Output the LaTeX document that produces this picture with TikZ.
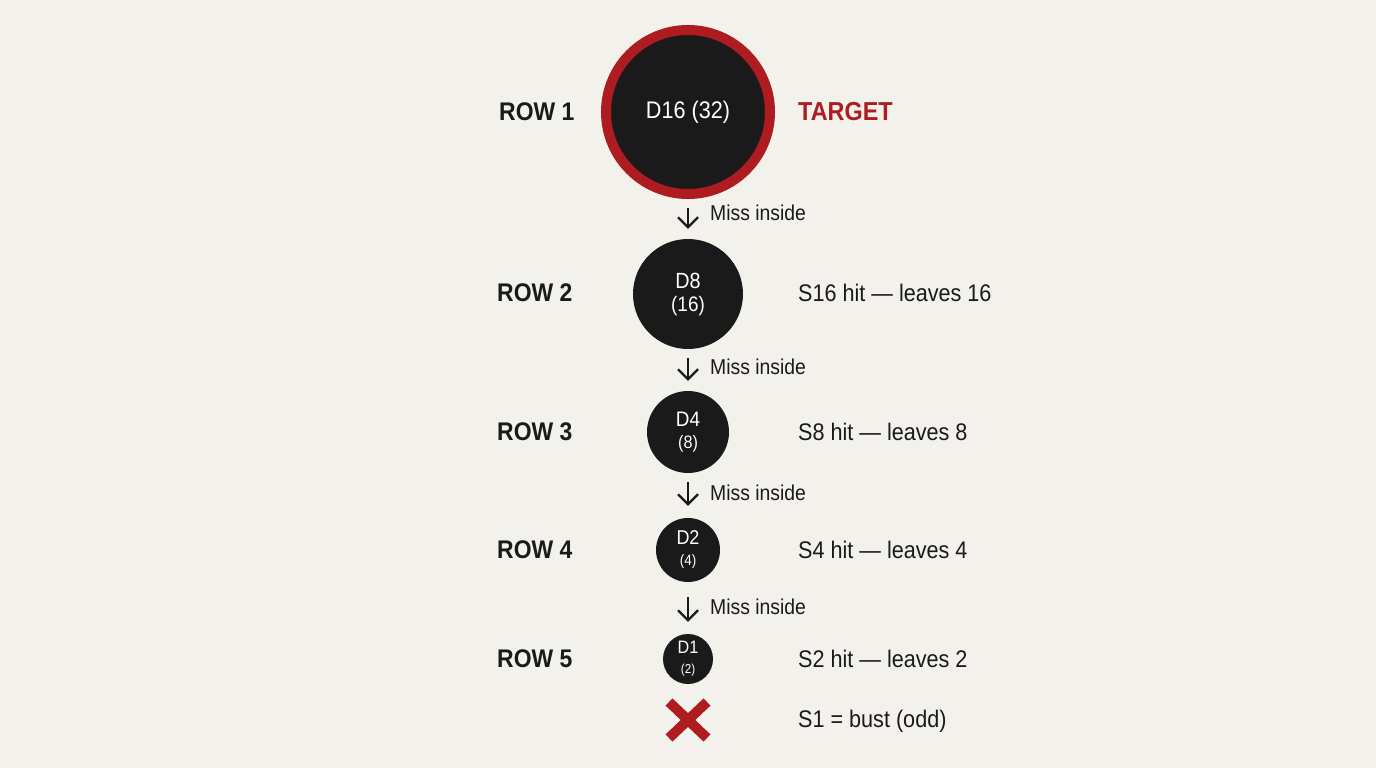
\documentclass[tikz,border=0pt]{standalone}
\usepackage{fontspec}
\setmainfont{Liberation Sans}[FakeStretch=0.9]
\usetikzlibrary{arrows.meta}
\definecolor{bg}{HTML}{F3F1EB}
\definecolor{ink}{HTML}{1B1A1A}
\definecolor{dred}{HTML}{AE1C22}
\tikzset{
  dot/.style={circle, fill=ink, inner sep=0pt, text=white, align=center, font=\fontsize{#1}{#1}\selectfont},
  rowlab/.style={anchor=west, text=ink, font=\bfseries\fontsize{25.5}{28}\selectfont, inner sep=0pt},
  hitlab/.style={anchor=west, text=ink, font=\fontsize{24}{28}\selectfont, inner sep=0pt},
  misslab/.style={anchor=west, text=ink, font=\fontsize{21.5}{24}\selectfont, inner sep=0pt},
  arr/.style={draw=ink, line width=2.2pt, -{Straight Barb[length=10pt,width=20pt,line width=2.2pt]}},
}
\begin{document}
\begin{tikzpicture}[x=1pt,y=-1pt]
\fill[bg] (0,0) rectangle (1376,768);
\useasboundingbox (0,0) rectangle (1376,768);

% circles
\node[dot=24, minimum size=164pt, draw=dred, line width=10pt] (c1) at (688,112) {D16 (32)};
\node[dot=22, minimum size=110pt] (c2) at (688,294) {D8\\[1pt]{\fontsize{21}{21}\selectfont(16)}};
\node[dot=21, minimum size=82pt] (c3) at (688,432) {D4\\[1pt]{\fontsize{18}{18}\selectfont(8)}};
\node[dot=20, minimum size=64pt] (c4) at (688,550) {D2\\[1pt]{\fontsize{15}{15}\selectfont(4)}};
\node[dot=18, minimum size=50pt] (c5) at (688,659) {D1\\[2pt]{\fontsize{13}{13}\selectfont(2)}};

% bust cross
\draw[dred, line width=10pt] (669,702) -- (707,738) (707,702) -- (669,738);

% arrows
\draw[arr, shorten <=9pt, shorten >=10pt] (c1) -- (c2);
\draw[arr, shorten <=9pt, shorten >=10pt] (c2) -- (c3);
\draw[arr, shorten <=9pt, shorten >=12pt] (c3) -- (c4);
\draw[arr, shorten <=15pt, shorten >=12pt] (c4) -- (c5);

\node[misslab] (m1) at (710,213) {Miss inside};
\node[misslab] (m2) at (710,367) {Miss inside};
\node[misslab] (m3) at (710,493) {Miss inside};
\node[misslab] (m4) at (710,607) {Miss inside};

% row labels
\node[rowlab] (r1) at (499,112) {ROW 1};
\node[rowlab] (r2) at (497,293) {ROW 2};
\node[rowlab] (r3) at (497,432) {ROW 3};
\node[rowlab] (r4) at (497,550) {ROW 4};
\node[rowlab] (r5) at (497,659) {ROW 5};

% right labels
\node[rowlab, text=dred, font=\bfseries\fontsize{26}{28}\selectfont] (t1) at (798,112) {TARGET};
\node[hitlab] (h2) at (798,293) {S16 hit — leaves 16};
\node[hitlab] (h3) at (798,432) {S8 hit — leaves 8};
\node[hitlab] (h4) at (798,550) {S4 hit — leaves 4};
\node[hitlab] (h5) at (798,659) {S2 hit — leaves 2};
\node[hitlab] (h6) at (798,721) {S1 = bust (odd)};
\end{tikzpicture}
\end{document}
